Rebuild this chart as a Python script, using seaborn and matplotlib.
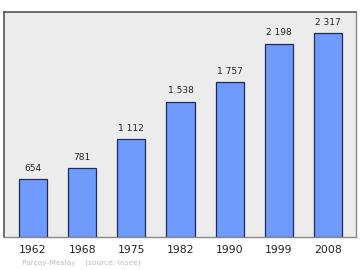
import matplotlib
matplotlib.use("Agg")
import matplotlib.pyplot as plt
import seaborn as sns
import pandas as pd

years = ["1962", "1968", "1975", "1982", "1990", "1999", "2008"]
population = [654, 781, 1112, 1538, 1757, 2198, 2317]
value_labels = ["654", "781", "1 112", "1 538", "1 757", "2 198", "2 317"]
footer = "Parçay-Meslay    (source: Insee)"

sns.set_theme(style="white")
plt.rcParams['font.family'] = ['DejaVu Sans']

df = pd.DataFrame({"year": years, "pop": population})

fig = plt.figure(figsize=(3.6, 2.7), dpi=100)
ax = fig.add_axes([4/360, 1 - 237/270, 352/360, 225/270])
ax.set_facecolor("#ececec")

sns.barplot(data=df, x="year", y="pop", ax=ax, color="#6f9bff", width=0.57,
            edgecolor="#1f2a55", linewidth=0.9, saturation=1)

ax.set_xlim(-0.59, 6.57)
ax.set_ylim(0, 2556)
ax.set_yticks([])
ax.set_xlabel("")
ax.set_ylabel("")
ax.tick_params(axis="x", length=0, labelsize=7.8, pad=6, colors="#222222")

for i, (v, lab) in enumerate(zip(population, value_labels)):
    ax.annotate(lab, (i, v), xytext=(0, 4.5), textcoords="offset points",
                ha="center", va="bottom", fontsize=6.5, color="#222222")

for side in ["left", "top"]:
    ax.spines[side].set_color("#555555")
    ax.spines[side].set_linewidth(1.2)
for side in ["right", "bottom"]:
    ax.spines[side].set_color("#888888")
    ax.spines[side].set_linewidth(1.0)

fig.text(22/360, 1 - 263/270, footer, fontsize=5.4, color="#bbbbbb",
         ha="left", va="center")

fig.savefig("out.png", dpi=100, facecolor="white")
